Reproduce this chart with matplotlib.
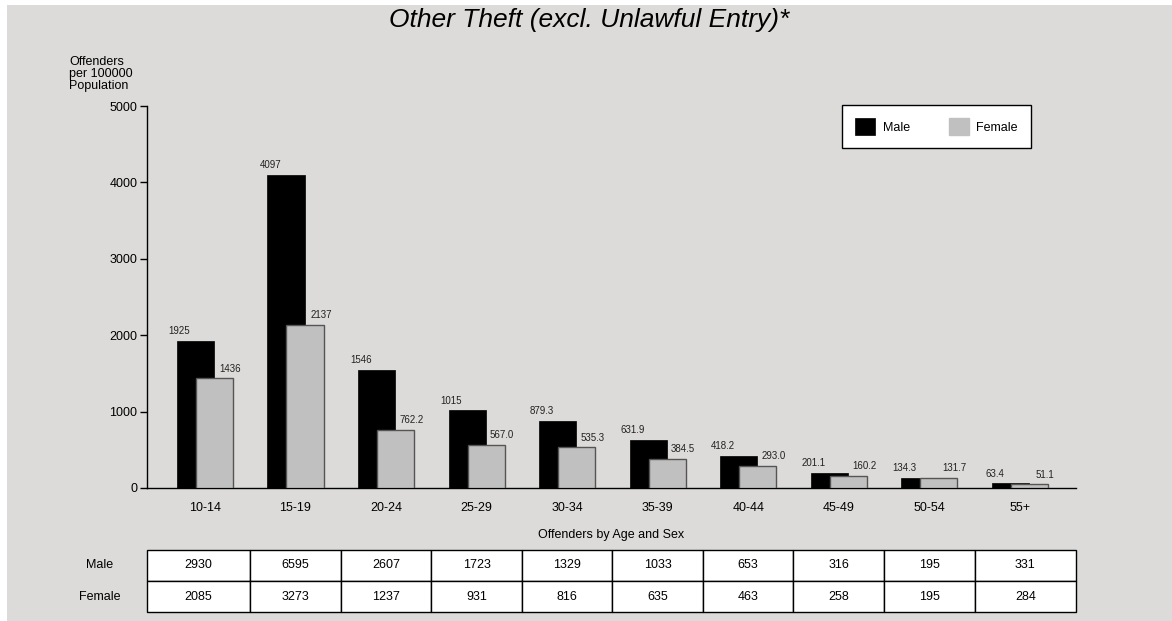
import matplotlib
matplotlib.use("Agg")
import matplotlib.pyplot as plt
import numpy as np
from matplotlib.patches import Rectangle

plt.rcParams['font.family'] = ['Liberation Sans', 'DejaVu Sans']

categories = ["10-14", "15-19", "20-24", "25-29", "30-34", "35-39", "40-44", "45-49", "50-54", "55+"]
male_rate = [1925, 4097, 1546, 1015, 879.3, 631.9, 418.2, 201.1, 134.3, 63.4]
female_rate = [1436, 2137, 762.2, 567.0, 535.3, 384.5, 293.0, 160.2, 131.7, 51.1]
male_labels = ["1925", "4097", "1546", "1015", "879.3", "631.9", "418.2", "201.1", "134.3", "63.4"]
female_labels = ["1436", "2137", "762.2", "567.0", "535.3", "384.5", "293.0", "160.2", "131.7", "51.1"]
male_counts = [2930, 6595, 2607, 1723, 1329, 1033, 653, 316, 195, 331]
female_counts = [2085, 3273, 1237, 931, 816, 635, 463, 258, 195, 284]
yticks = [0, 1000, 2000, 3000, 4000, 5000]

W, H = 1172, 621
BG = '#dcdbd9'
fig = plt.figure(figsize=(W / 100, H / 100), dpi=100)
fig.patch.set_facecolor('white')
fig.add_artist(Rectangle((7 / W, 0), 1, 1 - 5 / H, transform=fig.transFigure,
                         facecolor=BG, edgecolor='none', zorder=-10))

ax = fig.add_axes([147 / W, 1 - 488 / H, (1076 - 147) / W, (488 - 106) / H])
ax.set_facecolor('none')

x = np.arange(len(categories))
bw = 0.41
off = 0.105
ax.bar(x - off, male_rate, width=bw, color='black', edgecolor='black', linewidth=0.5, zorder=2)
ax.bar(x + off, female_rate, width=bw, color='#c0c0c0', edgecolor='#555555', linewidth=1.0, zorder=3)

for i in range(len(categories)):
    ax.text(x[i] - 0.28, male_rate[i] + 60, male_labels[i], ha='center', va='bottom',
            fontsize=7, color='#222222', zorder=4)
    ax.text(x[i] + 0.28, female_rate[i] + 60, female_labels[i], ha='center', va='bottom',
            fontsize=7, color='#222222', zorder=4)

ax.set_xlim(-0.64, 9.62)
ax.set_ylim(0, 5000)
ax.set_yticks(yticks)
ax.set_yticklabels([str(v) for v in yticks], fontsize=9)
ax.set_xticks(x)
ax.set_xticklabels(categories, fontsize=9)
ax.tick_params(axis='x', length=0, pad=10)
ax.tick_params(axis='y', length=5, width=1, pad=2, direction='out')
for s in ['top', 'right']:
    ax.spines[s].set_visible(False)
ax.spines['left'].set_linewidth(1)
ax.spines['bottom'].set_linewidth(1)

ax.text(0.5, -0.124, "Offenders by Age and Sex", transform=ax.transAxes,
        ha='center', va='center', fontsize=9)

fig.text(69 / W, 1 - 56 / H, "Offenders\nper 100000\nPopulation", ha='left', va='top',
         fontsize=9, linespacing=1.0)

fig.text(589 / W, 1 - 20 / H, "Other Theft (excl. Unlawful Entry)*", ha='center', va='center',
         fontsize=19, style='italic')

# legend
leg = ax.legend(["Male", "Female"], ncol=2, loc='upper left',
                bbox_to_anchor=(842 / W, 1 - 105 / H), bbox_transform=fig.transFigure,
                borderaxespad=0, fontsize=9, frameon=True, fancybox=False,
                edgecolor='black', framealpha=1, handlelength=1.6, handleheight=1.7,
                handletextpad=0.6, columnspacing=3.1, borderpad=1.05)
leg.get_frame().set_linewidth(1)
leg.legend_handles[1].set_edgecolor('#c0c0c0')

# table
xmin, xmax = ax.get_xlim()
bounds = [xmin] + [i + 0.5 for i in range(len(categories) - 1)] + [xmax]
widths = [(bounds[i + 1] - bounds[i]) / (xmax - xmin) for i in range(len(categories))]
cell_text = [[str(v) for v in male_counts], [str(v) for v in female_counts]]
axh = 488 - 106
t_top = (488 - 550) / axh
t_bot = (488 - 612) / axh
tbl = ax.table(cellText=cell_text, colWidths=widths, cellLoc='center',
               bbox=[0, t_bot, 1, t_top - t_bot])
tbl.auto_set_font_size(False)
tbl.set_fontsize(9)
for (r, c), cell in tbl.get_celld().items():
    cell.set_facecolor('white')
    cell.set_edgecolor('black')
    cell.set_linewidth(1)

for label, frac in [("Male", 0.25), ("Female", 0.75)]:
    yy = t_top - (t_top - t_bot) * frac
    ax.text((100 - 147) / (1076 - 147), yy, label, transform=ax.transAxes,
            ha='center', va='center', fontsize=9)

fig.savefig("out.png", dpi=100, facecolor=fig.get_facecolor())
